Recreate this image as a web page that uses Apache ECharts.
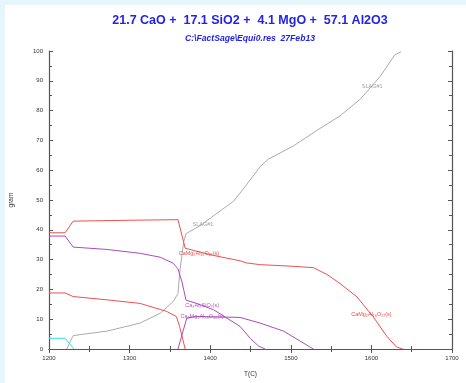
<!DOCTYPE html>
<html><head><meta charset="utf-8">
<script src="https://cdn.jsdelivr.net/npm/echarts@6/dist/echarts.min.js"></script>
<style>html,body{margin:0;padding:0;background:#e6f6fb}#c{width:466px;height:383px}</style>
</head><body><div id="c"></div>
<script>
// --- data (temperature in C, amount in gram) ---
const xTicks = [1200, 1300, 1400, 1500, 1600, 1700];
const yTicks = [0, 10, 20, 30, 40, 50, 60, 70, 80, 90, 100];

const redTopT = [1200, 1220, 1230, 1300, 1360, 1369, 1404, 1437, 1445, 1462, 1500, 1528, 1545, 1561, 1582, 1602, 1619, 1631, 1639];
const redTopG = [39.0, 39.0, 42.9, 43.2, 43.4, 33.8, 31.4, 29.6, 28.9, 28.3, 27.8, 27.3, 25.0, 22.0, 17.5, 10.9, 4.3, 0.7, 0];

const redLowT = [1200, 1220, 1230, 1272, 1313, 1346, 1358, 1362, 1369];
const redLowG = [18.8, 18.8, 17.6, 16.5, 15.3, 12.6, 10.9, 7.6, 0];

const purpTopT = [1200, 1220, 1230, 1272, 1313, 1338, 1354, 1360, 1365, 1370, 1383, 1404, 1437, 1450, 1460, 1468];
const purpTopG = [37.9, 37.9, 34.2, 33.4, 32.1, 30.8, 28.8, 26.9, 22.5, 16.4, 15.3, 13.2, 7.6, 3.5, 1.0, 0];

const purpLowT = [1360, 1371, 1383, 1437, 1462, 1491, 1528];
const purpLowG = [0, 10.4, 10.9, 10.6, 8.7, 6.0, 0];

const slagT = [1222, 1230, 1272, 1313, 1338, 1354, 1360, 1362.5, 1367, 1370, 1387, 1429, 1445, 1462, 1472, 1503, 1532, 1561, 1586, 1611, 1629, 1637];
const slagG = [0, 4.5, 6.0, 8.7, 12.0, 15.9, 18.6, 26.4, 35.8, 38.7, 41.3, 49.6, 55.1, 61.2, 63.7, 68.1, 73.3, 78.2, 83.8, 91.5, 98.7, 99.8];

const cyanT = [1200, 1220, 1231];
const cyanG = [3.6, 3.6, 0];

const labelText = ['SLAG#1', 'SLAG#1', 'CaMg\u2082Al\u2081\u2086O\u2082\u2087(s)', 'CaMg\u2082Al\u2081\u2086O\u2082\u2087(s)', 'Ca\u2082Al\u2082SiO\u2087(s)', 'Ca\u2082Mg\u2082Al\u2082\u2088O\u2084\u2086(s)'];
const labelT = [1391, 1601, 1386, 1600, 1390, 1390];
const labelG = [41.7, 88.0, 32.0, 11.6, 14.6, 10.9];
const labelKind = ['slag', 'slag', 'red', 'red', 'purp', 'purp'];

// --- styling ---
const RED = '#ee5050', PURP = '#aa4cbb', GREY = '#aaaaaa', CYAN = '#33ddee';
const kindColor = {slag: '#888888', red: '#e02020', purp: '#9a2aaa'};
const zip = (a, b) => a.map((v, i) => [v, b[i]]);
const lineS = (d, c) => ({type: 'line', data: d, symbol: 'none', smooth: false, silent: true,
  lineStyle: {color: c, width: 1}, itemStyle: {color: c}, z: 3});

const axisCol = '#555555';
const font = 'Liberation Sans, Arial, sans-serif';
const plain = v => String(v);

const chart = echarts.init(document.getElementById('c'), null, {renderer: 'canvas'});
chart.setOption({
  backgroundColor: '#e6f6fb',
  animation: false,
  graphic: [{type: 'rect', shape: {x: 5, y: 5, width: 470, height: 390}, style: {fill: '#ffffff'}, z: -10, silent: true}],
  title: [
    {text: '21.7 CaO +  17.1 SiO2 +  4.1 MgO +  57.1 Al2O3', left: 245, top: 9, textAlign: 'center',
     textStyle: {color: '#2323e8', fontSize: 12.5, fontWeight: 'bold', fontFamily: font}},
    {text: 'C:\\FactSage\\Equi0.res  27Feb13', left: 245, top: 29, textAlign: 'center',
     textStyle: {color: '#2323e8', fontSize: 8.6, fontWeight: 'bold', fontStyle: 'italic', fontFamily: font}}
  ],
  grid: {left: 49, top: 51, width: 403, height: 302, show: false},
  xAxis: [
    {type: 'value', min: xTicks[0], max: xTicks[xTicks.length - 1], interval: 100, position: 'bottom',
     name: 'T(C)', nameLocation: 'middle', nameGap: 22, nameTextStyle: {fontSize: 6.5, color: '#333', fontFamily: font},
     axisLine: {show: true, lineStyle: {color: axisCol, width: 1.2}},
     axisTick: {show: true, inside: true, length: 4, lineStyle: {color: axisCol}},
     minorTick: {show: true, splitNumber: 2, length: 3, lineStyle: {color: axisCol}},
     axisLabel: {fontSize: 6, color: '#333', margin: 6, fontFamily: font, formatter: plain},
     splitLine: {show: false}},
    {type: 'value', min: xTicks[0], max: xTicks[xTicks.length - 1], interval: 100, position: 'top',
     axisLine: {show: true, lineStyle: {color: axisCol, width: 1.2}},
     axisTick: {show: true, inside: true, length: 4, lineStyle: {color: axisCol}},
     minorTick: {show: true, splitNumber: 2, length: 3, lineStyle: {color: axisCol}},
     axisLabel: {show: false}, splitLine: {show: false}}
  ],
  yAxis: [
    {type: 'value', min: yTicks[0], max: yTicks[yTicks.length - 1], interval: 10, position: 'left',
     name: 'gram', nameLocation: 'middle', nameGap: 34, nameRotate: 90,
     nameTextStyle: {fontSize: 6.5, color: '#333', fontFamily: font},
     axisLine: {show: true, lineStyle: {color: axisCol, width: 1.2}},
     axisTick: {show: true, inside: true, length: 4, lineStyle: {color: axisCol}},
     minorTick: {show: true, splitNumber: 2, length: 3, lineStyle: {color: axisCol}},
     axisLabel: {fontSize: 6, color: '#333', margin: 6, fontFamily: font, formatter: plain},
     splitLine: {show: false}},
    {type: 'value', min: yTicks[0], max: yTicks[yTicks.length - 1], interval: 10, position: 'right',
     axisLine: {show: true, lineStyle: {color: axisCol, width: 1.2}},
     axisTick: {show: true, inside: true, length: 4, lineStyle: {color: axisCol}},
     minorTick: {show: true, splitNumber: 2, length: 3, lineStyle: {color: axisCol}},
     axisLabel: {show: false}, splitLine: {show: false}}
  ],
  series: [
    lineS(zip(cyanT, cyanG), CYAN),
    lineS(zip(slagT, slagG), GREY),
    lineS(zip(redLowT, redLowG), RED),
    lineS(zip(purpLowT, purpLowG), PURP),
    lineS(zip(purpTopT, purpTopG), PURP),
    lineS(zip(redTopT, redTopG), RED),
    {type: 'scatter', symbolSize: 0, silent: true, z: 5,
     data: labelT.map((t, i) => ({value: [t, labelG[i]],
       label: {show: true, position: 'inside', formatter: labelText[i], fontSize: 5.5,
               fontFamily: font, color: kindColor[labelKind[i]]}}))}
  ]
});
</script></body></html>
